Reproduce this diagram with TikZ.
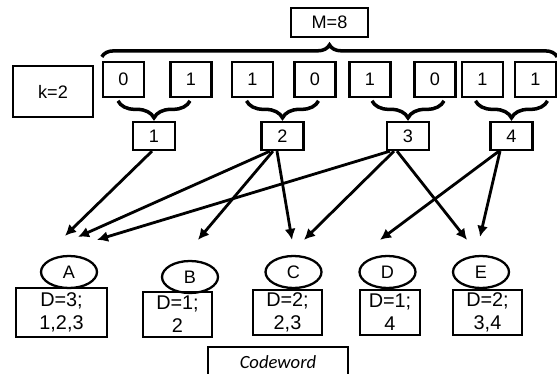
\documentclass[tikz,border=0pt]{standalone}
\usepackage{fontspec}
\setmainfont{Liberation Sans}
\newfontfamily\cwfont{Carlito}
\usetikzlibrary{shapes.geometric,arrows.meta,calc,decorations.pathreplacing}

\tikzset{
  bit/.style={draw,line width=1.3pt,minimum width=0.82cm,minimum height=0.7cm,inner sep=0pt},
  grp/.style={draw,line width=1.3pt,minimum width=0.84cm,minimum height=0.56cm,inner sep=0pt},
  cls/.style={draw,ellipse,line width=1.3pt,minimum width=1.12cm,minimum height=0.64cm,inner sep=0pt},
  info/.style={draw,line width=1.3pt,align=center,inner sep=0pt,minimum height=0.9cm,minimum width=1.38cm,
    font=\fontsize{11.3}{13}\selectfont},
  arr/.style={-{Latex[length=2.2mm,width=2.2mm]},line width=1.6pt},
  brc/.style={decorate,decoration={brace,amplitude=#1},line width=2pt}
}

\begin{document}
\begin{tikzpicture}[x=0.02cm,y=-0.02cm,font=\fontsize{10.3}{13}\selectfont]
\clip (0,0) rectangle (557,374);
%Header boxes
\node[draw,line width=1.3pt,minimum width=1.54cm,minimum height=0.58cm] (M) at (329.5,22.5) {M=8};
\node[draw,line width=1.3pt,minimum width=1.6cm,minimum height=1.02cm] (k) at (53,91.5) {k=2};
%Bits of the codeword
\foreach \x/\v [count=\i] in {123.5/0,191/1,252.5/1,315/0,370/1,435/0,482.5/1,535.5/1}
  \node[bit] (b\i) at (\x,79.5) {\v};
\draw[brc=0.24cm] ($(b1.north west)+(0,-4)$) -- ($(b8.north east)+(0,-4)$);
%Pairs of bits
\foreach \x [count=\i] in {154,282.5,408,511.5}{
  \node[grp] (p\i) at (\x,136) {\i};
  \draw[brc=0.34cm] ($(p\i.north)+(36,-20)$) -- ($(p\i.north)+(-36,-20)$);
}
%Clusters
\node[cls] (A) at (69,272) {A};
\node[cls] (B) at (190,277) {B};
\node[cls] (C) at (293.5,272) {C};
\node[cls] (D) at (387.5,272) {D};
\node[cls] (E) at (481,272) {E};
\node[info,minimum width=1.82cm,minimum height=0.98cm] (dA) at (61.5,312.5) {D=3;\\1,2,3};
\node[info] (dB) at (177.5,314.5) {D=1;\\2};
\node[info] (dC) at (287.5,312.5) {D=2;\\2,3};
\node[info,minimum width=1.2cm] (dD) at (390,312.5) {D=1;\\4};
\node[info] (dE) at (487.5,312.5) {D=2;\\3,4};
\node[draw,line width=1.3pt,minimum width=2.8cm,minimum height=0.6cm,font=\cwfont\itshape\fontsize{10.6}{12}\selectfont] (cw) at (278,362) {Codeword};
%Arrow ends
\coordinate (tA1) at ($(A.north)+(-4,-19)$);
\coordinate (tA2) at ($(A.north)+(9,-18)$);
\coordinate (tA3) at ($(A.north)+(28,-15)$);
\coordinate (tB) at ($(B.north)+(8,-20)$);
\coordinate (tC1) at ($(C.north)+(-1.5,-15)$);
\coordinate (tC2) at ($(C.north)+(10.5,-15)$);
\coordinate (tD) at ($(D.north)+(-7.5,-15)$);
\coordinate (tE1) at ($(E.north)+(-14,-15)$);
\coordinate (tE2) at ($(E.north)+(-1,-18)$);
%Arrows
\draw[arr] ($(p1.south)+(-2,0)$) -- (tA1);
\draw[arr] ($(p2.south)+(-12.5,0)$) -- (tA2);
\draw[arr] ($(p2.south)+(-9.5,0)$) -- (tB);
\draw[arr] ($(p2.south)+(-5.5,0)$) -- (tC1);
\draw[arr] ($(p3.south)+(-18,0)$) -- (tA3);
\draw[arr] ($(p3.south)+(-14,0)$) -- (tC2);
\draw[arr] ($(p3.south)+(-11,0)$) -- (tE1);
\draw[arr] ($(p4.south)+(-12.5,0)$) -- (tD);
\draw[arr] ($(p4.south)+(-11.5,0)$) -- (tE2);
\end{tikzpicture}
\end{document}
